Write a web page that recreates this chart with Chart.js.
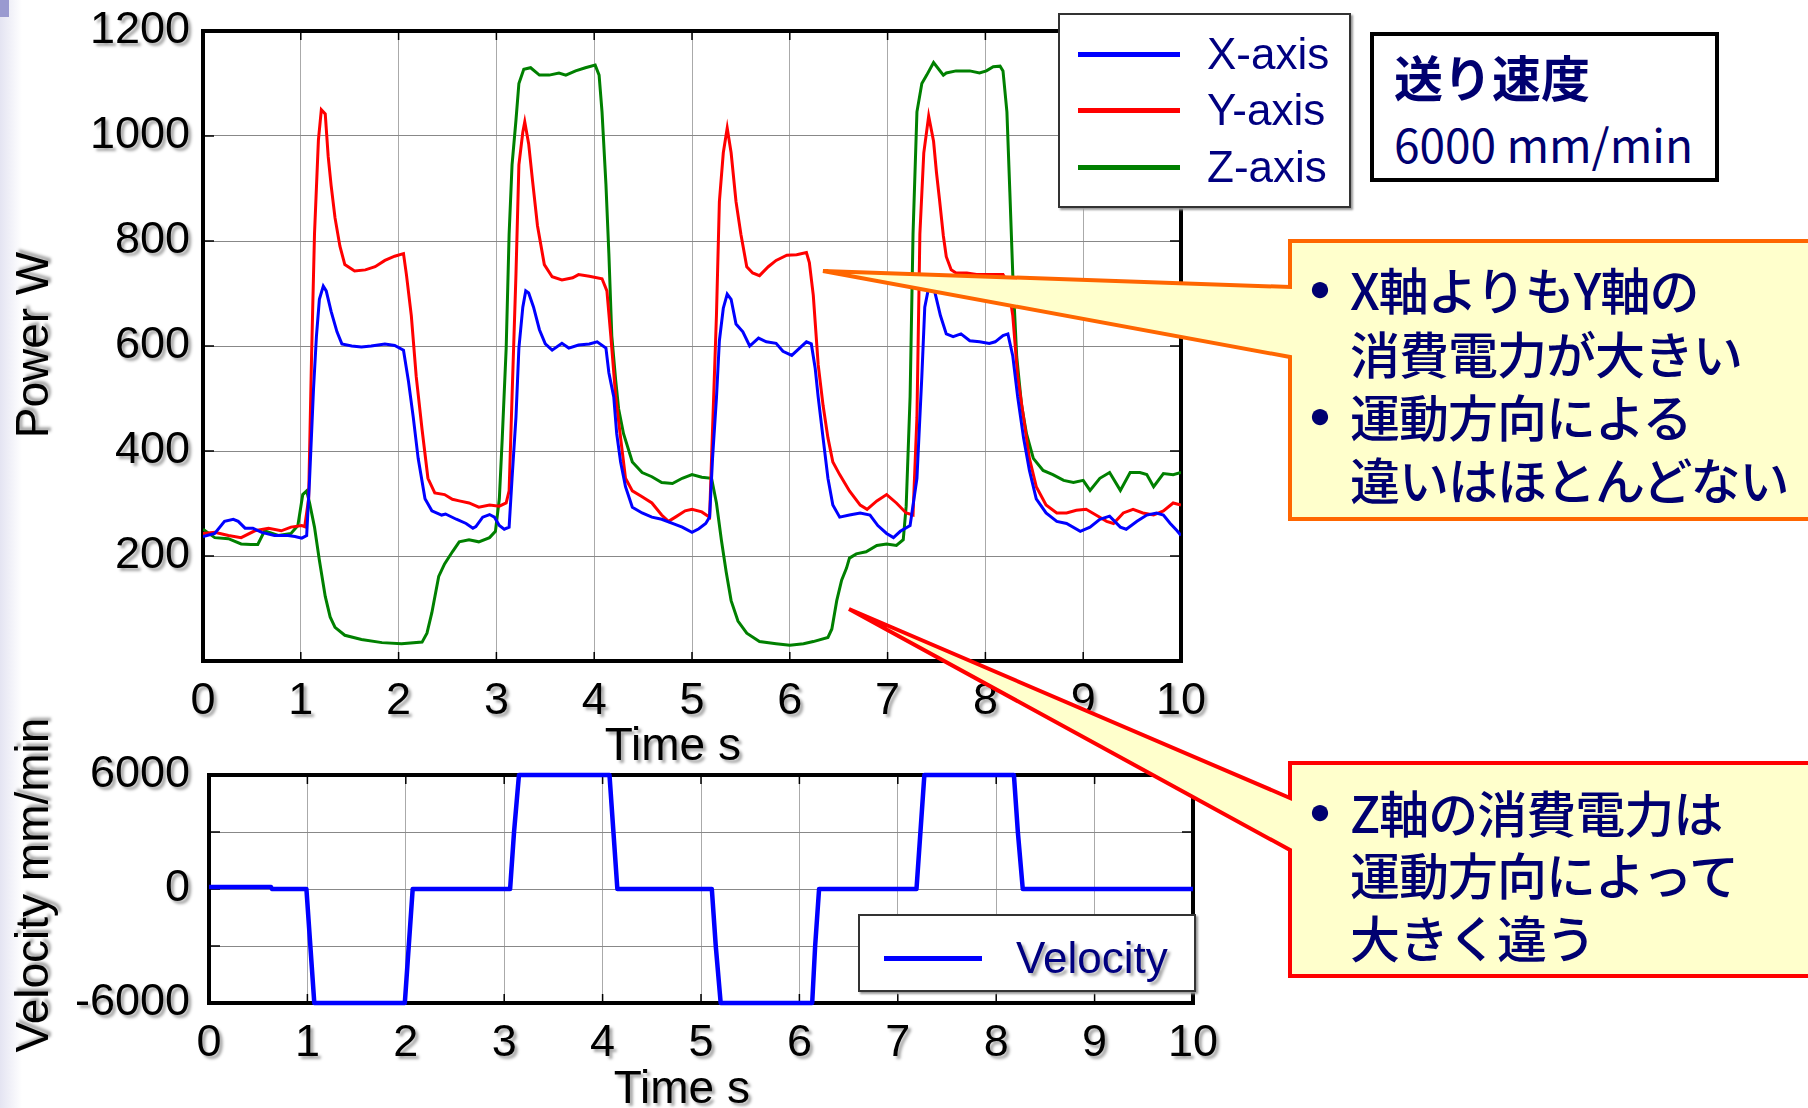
<!DOCTYPE html>
<html lang="ja">
<head>
<meta charset="UTF-8">
<title>送り速度 6000 mm/min</title>
<script src="https://cdn.jsdelivr.net/npm/chart.js"></script>
<style>
  body { margin: 0; width: 1808px; height: 1108px; overflow: hidden; background: #fff; position: relative;
         font-family: "Liberation Sans", Arial, sans-serif; }
  .abs { position: absolute; }
  .edge { left: 0; top: 0; width: 22px; height: 1108px; background: linear-gradient(to right, #e4e4f2, #ffffff); }
  .corner { left: 0; top: 0; width: 9px; height: 17px; background: #9a9ad0; }
  #powerWrap { left: 0; top: 0; width: 1240px; height: 775px; }
  #velWrap { left: 0; top: 755px; width: 1240px; height: 363px; }
  .ytitle { position: absolute; width: 420px; height: 56px; line-height: 56px; text-align: center;
            font-size: 46px; white-space: nowrap; transform: rotate(-90deg);
            text-shadow: 3px 3px 3px rgba(0,0,0,0.35); }
  .legend { background: #fff; border: 2px solid #333; box-shadow: 2px 2px 2px #999; }
  .legend .sw { position: absolute; height: 5px; }
  .legend .lb { position: absolute; font-size: 44px; line-height: 50px; color: #000080; white-space: nowrap; }
  .jp { font-family: "Noto Sans CJK JP", sans-serif; color: #000070; white-space: nowrap; }
  .feed { left: 1370px; top: 32px; width: 341px; height: 142px; border: 4px solid #000; background: #fff; }
  .line { position: absolute; font-size: 50px; line-height: 60px; font-weight: 500; letter-spacing: -1px; }
  .dot { position: absolute; font-size: 18px; line-height: 60px; }
  svg { position: absolute; left: 0; top: 0; }
</style>
</head>
<body>
<div class="abs edge"></div>
<div class="abs corner"></div>

<div id="powerWrap" class="abs"><canvas id="powerChart" width="1240" height="775"></canvas></div>
<div id="velWrap" class="abs"><canvas id="velChart" width="1240" height="363"></canvas></div>

<div class="ytitle" style="left:-178px; top:317px;">Power W</div>
<div class="ytitle" style="left:-178px; top:857px;">Velocity mm/min</div>

<div id="powerLegend" class="abs legend" style="left:1058px; top:13px; width:289px; height:191px;"></div>
<div id="velLegend" class="abs legend" style="left:858px; top:914px; width:334px; height:74px;"></div>

<div class="abs feed jp">
  <div class="line" style="left:20px; top:10px; font-weight:700; font-size:49px; letter-spacing:0;">送り速度</div>
  <div class="line" style="left:20px; top:77px; font-size:46px; font-weight:400; letter-spacing:0;">6000 mm/min</div>
</div>

<svg width="1808" height="1108">
  <polygon points="1290,241 1812,241 1812,519 1290,519 1290,357 823,271 1290,287"
           fill="#ffffcc" stroke="#ff6600" stroke-width="4" stroke-linejoin="miter"/>
  <polygon points="1290,763 1812,763 1812,976 1290,976 1290,850 849,609 1290,798"
           fill="#ffffcc" stroke="#ff0000" stroke-width="4" stroke-linejoin="miter"/>
</svg>

<div class="jp">
  <div class="dot abs" style="left:1311px; top:259px;">●</div>
  <div class="line abs" style="left:1350px; top:258px;">X軸よりもY軸の</div>
  <div class="line abs" style="left:1350px; top:322px;">消費電力が大きい</div>
  <div class="dot abs" style="left:1311px; top:386px;">●</div>
  <div class="line abs" style="left:1350px; top:385px;">運動方向による</div>
  <div class="line abs" style="left:1350px; top:448px;">違いはほとんどない</div>

  <div class="dot abs" style="left:1311px; top:782px;">●</div>
  <div class="line abs" style="left:1350px; top:781px;">Z軸の消費電力は</div>
  <div class="line abs" style="left:1350px; top:843px;">運動方向によって</div>
  <div class="line abs" style="left:1350px; top:906px;">大きく違う</div>
</div>

<script>
  // values, time in s
  const xAxisTime = [0, 0.12, 0.22, 0.31, 0.36, 0.43, 0.51, 0.6, 0.73, 0.87, 0.94, 1.01, 1.06, 1.09, 1.13, 1.16, 1.19, 1.23, 1.26, 1.31, 1.37, 1.42, 1.52, 1.62, 1.72, 1.86, 1.96, 2.05, 2.1, 2.15, 2.2, 2.27, 2.34, 2.44, 2.48, 2.59, 2.69, 2.76, 2.79, 2.86, 2.93, 2.98, 3.03, 3.08, 3.13, 3.16, 3.2, 3.23, 3.27, 3.3, 3.33, 3.38, 3.44, 3.5, 3.57, 3.67, 3.74, 3.84, 3.95, 4.03, 4.12, 4.15, 4.2, 4.23, 4.27, 4.32, 4.39, 4.49, 4.59, 4.69, 4.8, 4.9, 5.0, 5.07, 5.14, 5.18, 5.21, 5.25, 5.28, 5.32, 5.36, 5.4, 5.45, 5.52, 5.59, 5.68, 5.76, 5.86, 5.93, 6.02, 6.1, 6.17, 6.22, 6.26, 6.29, 6.34, 6.39, 6.44, 6.51, 6.61, 6.72, 6.82, 6.9, 6.99, 7.06, 7.13, 7.23, 7.3, 7.35, 7.38, 7.43, 7.48, 7.54, 7.6, 7.67, 7.75, 7.84, 7.94, 8.04, 8.1, 8.18, 8.23, 8.28, 8.33, 8.39, 8.45, 8.52, 8.62, 8.73, 8.83, 8.97, 9.07, 9.17, 9.27, 9.38, 9.44, 9.55, 9.65, 9.75, 9.82, 9.89, 9.96, 10];
  const xAxisPower = [237, 243, 266, 270, 266, 253, 253, 245, 239, 239, 237, 234, 239, 348, 518, 619, 689, 714, 705, 666, 627, 604, 600, 598, 600, 604, 601, 592, 534, 464, 386, 309, 286, 278, 280, 270, 262, 253, 256, 274, 279, 274, 258, 251, 255, 348, 464, 596, 674, 705, 701, 674, 631, 604, 592, 605, 596, 602, 604, 608, 596, 549, 503, 433, 379, 332, 293, 282, 274, 270, 262, 255, 245, 252, 262, 274, 386, 501, 610, 672, 699, 689, 642, 627, 600, 615, 608, 605, 590, 582, 596, 608, 604, 557, 503, 425, 348, 297, 274, 278, 282, 278, 258, 243, 235, 247, 258, 348, 542, 674, 721, 705, 658, 623, 618, 623, 610, 608, 605, 608, 620, 623, 581, 503, 425, 363, 309, 282, 266, 262, 247, 255, 270, 276, 255, 251, 266, 278, 282, 278, 262, 248, 239];

  const yAxisTime = [0, 0.12, 0.26, 0.39, 0.53, 0.67, 0.8, 0.9, 1.01, 1.04, 1.08, 1.11, 1.14, 1.18, 1.21, 1.25, 1.28, 1.31, 1.35, 1.4, 1.45, 1.55, 1.66, 1.76, 1.86, 1.96, 2.05, 2.08, 2.13, 2.18, 2.24, 2.3, 2.37, 2.47, 2.55, 2.62, 2.72, 2.82, 2.93, 3.03, 3.1, 3.13, 3.16, 3.2, 3.23, 3.27, 3.29, 3.33, 3.37, 3.42, 3.49, 3.57, 3.67, 3.78, 3.84, 3.95, 4.08, 4.13, 4.17, 4.22, 4.27, 4.32, 4.39, 4.49, 4.59, 4.69, 4.76, 4.83, 4.93, 5.0, 5.1, 5.18, 5.2, 5.25, 5.28, 5.32, 5.36, 5.4, 5.45, 5.5, 5.56, 5.62, 5.69, 5.78, 5.86, 5.97, 6.07, 6.17, 6.2, 6.24, 6.29, 6.34, 6.39, 6.44, 6.51, 6.61, 6.72, 6.79, 6.89, 6.99, 7.09, 7.19, 7.26, 7.3, 7.33, 7.37, 7.42, 7.47, 7.5, 7.53, 7.57, 7.6, 7.65, 7.7, 7.81, 7.91, 8.01, 8.11, 8.18, 8.23, 8.28, 8.33, 8.39, 8.45, 8.52, 8.62, 8.73, 8.83, 8.93, 9.03, 9.13, 9.24, 9.31, 9.41, 9.51, 9.61, 9.72, 9.82, 9.92, 10];
  const yAxisPower = [243, 245, 239, 235, 248, 253, 248, 255, 258, 256, 309, 580, 813, 992, 1050, 1042, 961, 906, 844, 790, 755, 743, 745, 751, 763, 771, 776, 736, 658, 542, 441, 348, 320, 317, 308, 305, 301, 293, 297, 295, 301, 324, 503, 736, 945, 1007, 1027, 985, 914, 829, 755, 732, 726, 730, 736, 733, 728, 705, 619, 503, 425, 348, 324, 313, 301, 278, 266, 274, 286, 289, 284, 274, 386, 658, 875, 968, 1015, 968, 875, 813, 751, 739, 734, 751, 763, 773, 774, 778, 759, 697, 565, 487, 425, 379, 355, 324, 297, 289, 305, 317, 301, 282, 278, 464, 813, 968, 1038, 990, 930, 880, 810, 770, 745, 739, 739, 736, 736, 736, 736, 720, 658, 542, 464, 386, 332, 297, 282, 282, 287, 289, 278, 266, 262, 282, 289, 282, 278, 286, 301, 297];

  const zAxisTime = [0, 0.12, 0.26, 0.39, 0.49, 0.56, 0.63, 0.77, 0.9, 0.97, 1.02, 1.06, 1.09, 1.14, 1.19, 1.25, 1.3, 1.35, 1.45, 1.62, 1.83, 2.03, 2.24, 2.29, 2.34, 2.41, 2.47, 2.55, 2.62, 2.72, 2.82, 2.93, 2.99, 3.03, 3.06, 3.1, 3.13, 3.16, 3.2, 3.23, 3.28, 3.35, 3.44, 3.54, 3.64, 3.71, 3.81, 3.91, 4.01, 4.05, 4.08, 4.12, 4.15, 4.18, 4.22, 4.25, 4.3, 4.39, 4.49, 4.59, 4.69, 4.8, 4.9, 5.0, 5.1, 5.2, 5.25, 5.3, 5.35, 5.4, 5.47, 5.56, 5.69, 5.86, 6.0, 6.14, 6.24, 6.39, 6.43, 6.48, 6.53, 6.58, 6.61, 6.68, 6.78, 6.89, 6.99, 7.09, 7.16, 7.19, 7.23, 7.26, 7.3, 7.35, 7.4, 7.47, 7.57, 7.6, 7.7, 7.84, 7.94, 8.01, 8.08, 8.15, 8.18, 8.22, 8.25, 8.28, 8.32, 8.37, 8.42, 8.49, 8.59, 8.69, 8.8, 8.9, 9.0, 9.07, 9.17, 9.27, 9.38, 9.48, 9.58, 9.65, 9.72, 9.82, 9.92, 10];
  const zAxisPower = [251, 235, 233, 223, 222, 222, 248, 239, 243, 258, 317, 324, 301, 255, 192, 123, 84, 64, 49, 41, 35, 33, 36, 53, 92, 161, 185, 208, 227, 231, 227, 235, 247, 309, 425, 596, 813, 945, 1030, 1100, 1127, 1130, 1116, 1116, 1120, 1116, 1124, 1130, 1135, 1116, 1046, 908, 776, 619, 534, 480, 433, 379, 359, 351, 340, 338, 348, 355, 350, 348, 301, 231, 169, 115, 76, 53, 37, 33, 30, 33, 37, 45, 61, 115, 154, 177, 196, 204, 208, 220, 223, 220, 231, 295, 503, 813, 1046, 1100, 1116, 1140, 1116, 1120, 1124, 1124, 1120, 1124, 1132, 1133, 1124, 1046, 893, 736, 580, 487, 433, 386, 363, 355, 344, 340, 344, 325, 348, 359, 325, 359, 359, 355, 332, 357, 355, 359];

  const velTime = [0, 0.63, 0.64, 0.99, 1.03, 1.07, 1.99, 2.03, 2.07, 3.06, 3.1, 3.15, 4.07, 4.11, 4.15, 5.11, 5.15, 5.2, 6.13, 6.16, 6.2, 7.19, 7.23, 7.27, 8.18, 8.22, 8.27, 10];
  const velValue = [100, 100, 0, 0, -3000, -6000, -6000, -3000, 0, 0, 3000, 6000, 6000, 3000, 0, 0, -3000, -6000, -6000, -3000, 0, 0, 3000, 6000, 6000, 3000, 0, 0];

  const powerTicks = [200, 400, 600, 800, 1000, 1200];
  const velocityTicks = [-6000, 0, 6000];
  const seriesNames = ['X-axis', 'Y-axis', 'Z-axis'];
  const seriesColors = ['#0000ff', '#ff0000', '#008000'];

  const pts = (ts, vs) => ts.map((t, i) => ({ x: t, y: vs[i] }));
  const font = { family: '"Liberation Sans", Arial, sans-serif', size: 45 };

  // grey drop shadow under every text the charts draw
  const textShadow = {
    id: 'textShadow',
    beforeInit(chart) {
      const ctx = chart.ctx, orig = ctx.fillText;
      ctx.fillText = function (...args) {
        this.save();
        this.shadowColor = 'rgba(0,0,0,0.35)';
        this.shadowBlur = 3;
        this.shadowOffsetX = 3;
        this.shadowOffsetY = 3;
        orig.apply(this, args);
        this.restore();
      };
    }
  };

  // thick black box round the plot, with short inward ticks (under the lines)
  const frame = {
    id: 'frame',
    beforeDatasetsDraw(chart) {
      const { ctx, chartArea: a, scales } = chart;
      ctx.save();
      ctx.strokeStyle = '#000';
      ctx.lineWidth = 1.5;
      ctx.beginPath();
      scales.x.ticks.forEach(t => {
        const px = scales.x.getPixelForValue(t.value);
        ctx.moveTo(px, a.bottom); ctx.lineTo(px, a.bottom - 9);
        ctx.moveTo(px, a.top); ctx.lineTo(px, a.top + 9);
      });
      scales.y.ticks.forEach(t => {
        const py = scales.y.getPixelForValue(t.value);
        ctx.moveTo(a.left, py); ctx.lineTo(a.left + 11, py);
        ctx.moveTo(a.right, py); ctx.lineTo(a.right - 11, py);
      });
      ctx.stroke();
      ctx.lineWidth = 4;
      ctx.strokeRect(a.left, a.top, a.right - a.left, a.bottom - a.top);
      ctx.restore();
    }
  };

  function fixX(h) {
    return s => { s.height = h; s.paddingLeft = 0; s.paddingRight = 0; };
  }
  function fixY(w) {
    return s => { s.width = w; s.paddingTop = 0; s.paddingBottom = 0; };
  }

  const gridX = { color: '#aaa', lineWidth: 1, drawTicks: false };
  const gridY = { color: '#888', lineWidth: 1, drawTicks: false };
  const xTitle = 'Time s\u00a0\u00a0\u00a0';

  const powerChart = new Chart(document.getElementById('powerChart'), {
    type: 'line',
    data: {
      datasets: [
        { label: seriesNames[0], data: pts(xAxisTime, xAxisPower), borderColor: seriesColors[0] },
        { label: seriesNames[1], data: pts(yAxisTime, yAxisPower), borderColor: seriesColors[1] },
        { label: seriesNames[2], data: pts(zAxisTime, zAxisPower), borderColor: seriesColors[2] }
      ]
    },
    options: {
      responsive: false,
      animation: false,
      layout: { padding: { left: 0, top: 31, right: 59, bottom: 0 } },
      elements: { line: { borderWidth: 3, tension: 0 }, point: { radius: 0 } },
      plugins: { legend: { display: false }, tooltip: { enabled: false } },
      scales: {
        x: {
          type: 'linear', min: 0, max: 10,
          ticks: { stepSize: 1, color: '#000', font, padding: 14, maxRotation: 0 },
          grid: gridX,
          border: { display: false },
          title: { display: true, text: xTitle, color: '#000', font: { ...font, size: 46 }, padding: 0 },
          afterFit: fixX(114)
        },
        y: {
          min: 0, max: 1200,
          ticks: { stepSize: 200, color: '#000', font, padding: 13,
                   callback: v => powerTicks.includes(v) ? String(v) : '' },
          grid: gridY,
          border: { display: false },
          afterFit: fixY(203)
        }
      }
    },
    plugins: [textShadow, frame]
  });

  const velChart = new Chart(document.getElementById('velChart'), {
    type: 'line',
    data: {
      datasets: [
        { label: 'Velocity', data: pts(velTime, velValue), borderColor: '#0000ff', borderWidth: 4.5, clip: 6 }
      ]
    },
    options: {
      responsive: false,
      animation: false,
      layout: { padding: { left: 0, top: 20, right: 47, bottom: 0 } },
      elements: { line: { tension: 0, borderJoinStyle: 'round' }, point: { radius: 0 } },
      plugins: { legend: { display: false }, tooltip: { enabled: false } },
      scales: {
        x: {
          type: 'linear', min: 0, max: 10,
          ticks: { stepSize: 1, color: '#000', font, padding: 14, maxRotation: 0 },
          grid: gridX,
          border: { display: false },
          title: { display: true, text: xTitle, color: '#000', font: { ...font, size: 46 }, padding: 0 },
          afterFit: fixX(115)
        },
        y: {
          min: -6000, max: 6000,
          ticks: { stepSize: 3000, color: '#000', font, padding: 19,
                   callback: v => velocityTicks.includes(v) ? String(v) : '' },
          grid: gridY,
          border: { display: false },
          afterFit: fixY(209)
        }
      }
    },
    plugins: [textShadow, frame]
  });

  // legends built from the datasets
  function buildLegend(el, chart, rows, shadow) {
    chart.data.datasets.forEach((ds, i) => {
      const r = rows[i];
      const sw = document.createElement('div');
      sw.className = 'sw';
      sw.style.cssText = `left:${r.sx}px; top:${r.cy - 3}px; width:${r.sw}px; background:${ds.borderColor};`;
      const lb = document.createElement('div');
      lb.className = 'lb';
      lb.textContent = ds.label;
      lb.style.cssText = `left:${r.tx}px; top:${r.cy - 26}px;` + (shadow ? 'text-shadow:3px 3px 3px rgba(0,0,0,0.35);' : '');
      el.appendChild(sw);
      el.appendChild(lb);
    });
  }
  buildLegend(document.getElementById('powerLegend'), powerChart, [
    { sx: 18, sw: 102, tx: 147, cy: 40 },
    { sx: 18, sw: 102, tx: 147, cy: 96 },
    { sx: 18, sw: 102, tx: 147, cy: 153 }
  ], false);
  buildLegend(document.getElementById('velLegend'), velChart, [
    { sx: 24, sw: 98, tx: 156, cy: 43 }
  ], true);
</script>
</body>
</html>
